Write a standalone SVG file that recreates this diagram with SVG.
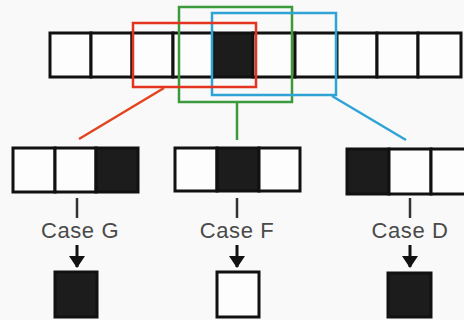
<svg xmlns="http://www.w3.org/2000/svg" width="464" height="320" viewBox="0 0 464 320">
<defs>
<style>
.cell{fill:#fdfdfd;stroke:#111;stroke-width:3}
.blk{fill:#1c1c1c;stroke:#111;stroke-width:3}
.lbl{font-family:"Liberation Sans",Arial,sans-serif;font-size:22px;letter-spacing:0.6px;fill:#4a4a4a;text-anchor:middle}
.tick{stroke:#333;stroke-width:2.5}
.win{fill:none;stroke-width:2.5}
.arr{stroke:#111;stroke-width:3;marker-end:url(#ah)}
</style>
<marker id="ah" viewBox="0 0 12 16" refX="11" refY="8" markerWidth="12" markerHeight="16" orient="auto" markerUnits="userSpaceOnUse">
<path d="M0,0 L12,8 L0,16 z" fill="#111"/>
</marker>
</defs>
<rect width="464" height="320" fill="#f9f9f9"/>
<g id="row">
<rect class="cell" x="50" y="33" width="41" height="44"/>
<rect class="cell" x="91" y="33" width="41" height="44"/>
<rect class="cell" x="132" y="33" width="41" height="44"/>
<rect class="cell" x="173" y="33" width="40" height="44"/>
<rect class="blk" x="213" y="33" width="40" height="44"/>
<rect class="cell" x="253" y="33" width="42" height="44"/>
<rect class="cell" x="295" y="33" width="42" height="44"/>
<rect class="cell" x="337" y="33" width="40" height="44"/>
<rect class="cell" x="377" y="33" width="41" height="44"/>
<rect class="cell" x="418" y="33" width="43" height="44"/>
</g>
<g id="windows">
<rect class="win" x="179" y="7" width="113" height="95" stroke="#3b9a3b"/>
<rect class="win" x="212" y="13" width="124" height="82" stroke="#2fa3d6"/>
<rect class="win" x="133" y="23" width="123" height="64" stroke="#e2341f"/>
</g>
<g id="connectors">
<line x1="164" y1="88" x2="79" y2="139" stroke="#e2441f" stroke-width="2.5"/>
<line x1="237" y1="102" x2="237" y2="140" stroke="#3b9a3b" stroke-width="2.5"/>
<line x1="332" y1="96" x2="406" y2="140" stroke="#2fa3d6" stroke-width="2.5"/>
<line class="tick" x1="77" y1="198" x2="77" y2="218"/>
<line class="tick" x1="237" y1="198" x2="237" y2="218"/>
<line class="tick" x1="410" y1="198" x2="410" y2="218"/>
<line class="arr" x1="77" y1="245" x2="77" y2="267"/>
<line class="arr" x1="237" y1="245" x2="237" y2="267"/>
<line class="arr" x1="410" y1="245" x2="410" y2="267"/>
</g>
<g id="caseG">
<rect class="cell" x="13" y="148" width="42" height="44"/>
<rect class="cell" x="55" y="148" width="41" height="44"/>
<rect class="blk" x="96" y="148" width="42" height="44"/>
<text class="lbl" x="80" y="238">Case G</text>
<rect class="blk" x="55" y="272" width="42" height="45"/>
</g>
<g id="caseF">
<rect class="cell" x="175" y="148" width="42" height="43"/>
<rect class="blk" x="217" y="148" width="42" height="43"/>
<rect class="cell" x="259" y="148" width="41" height="43"/>
<text class="lbl" x="237" y="238">Case F</text>
<rect class="cell" x="217" y="272" width="42" height="45"/>
</g>
<g id="caseD">
<rect class="blk" x="347" y="149" width="42" height="45"/>
<rect class="cell" x="389" y="149" width="42" height="45"/>
<rect class="cell" x="431" y="149" width="42" height="45"/>
<text class="lbl" x="410" y="238">Case D</text>
<rect class="blk" x="388" y="273" width="43" height="44"/>
</g>
</svg>
